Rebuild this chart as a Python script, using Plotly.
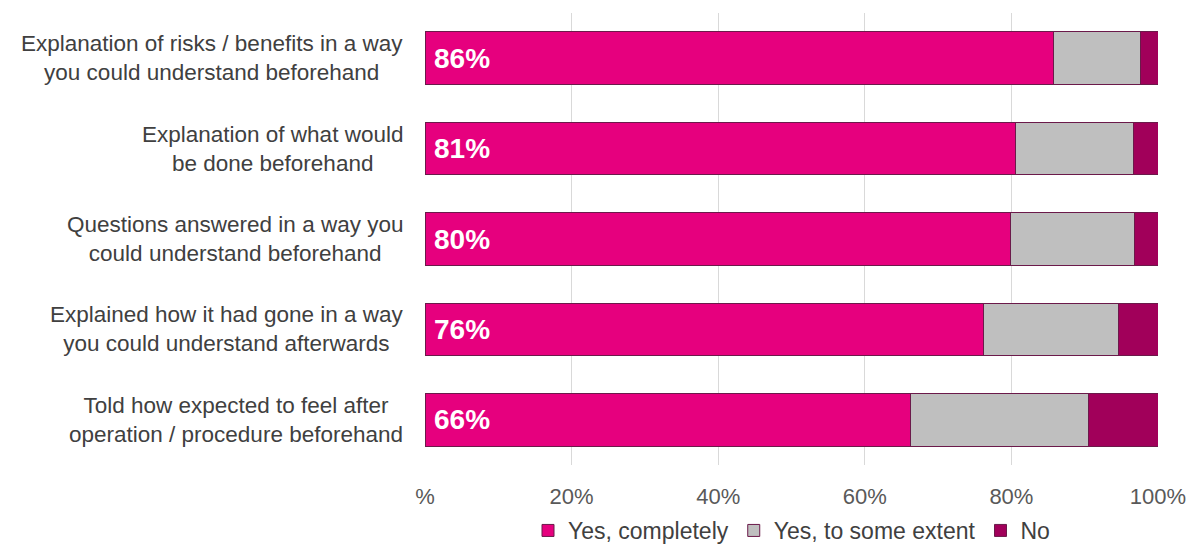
import plotly.graph_objects as go

categories = [
    "Explanation of risks / benefits in a way<br>you could understand beforehand",
    "Explanation of what would<br>be done beforehand",
    "Questions answered in a way you<br>could understand beforehand",
    "Explained how it had gone in a way<br>you could understand afterwards",
    "Told how expected to feel after<br>operation / procedure beforehand",
]
yes_completely = [85.7, 80.6, 79.9, 76.2, 66.2]
yes_some = [11.9, 16.0, 16.9, 18.4, 24.3]
no = [2.4, 3.4, 3.2, 5.4, 9.5]
series_names = ["Yes, completely", "Yes, to some extent", "No"]
tick_vals = [0, 20, 40, 60, 80, 100]
tick_text = ["%", "20%", "40%", "60%", "80%", "100%"]

colors = ["#E6007E", "#BFBFBF", "#A1005A"]
outline = "#6B1A4A"
FONT = "Liberation Sans, Arial, sans-serif"

fig = go.Figure()
for name, vals, col in zip(series_names, [yes_completely, yes_some, no], colors):
    fig.add_trace(go.Bar(
        y=categories, x=vals, name=name, orientation="h",
        marker=dict(color=col, line=dict(color=outline, width=1)),
        hoverinfo="skip",
    ))

annotations = []
for cat, v in zip(categories, yes_completely):
    annotations.append(dict(
        x=0, y=cat, xref="x", yref="y", text=f"<b>{int(v + 0.5)}%</b>",
        showarrow=False, xanchor="left", xshift=7,
        font=dict(family=FONT, size=28, color="white"),
    ))
for cat in categories:
    annotations.append(dict(
        x=-0.027, y=cat, xref="paper", yref="y", text=cat,
        showarrow=False, xanchor="right", align="center",
        font=dict(family=FONT, size=22.5, color="#404040"),
    ))

fig.update_layout(
    width=1195, height=552,
    barmode="stack", bargap=0.42,
    plot_bgcolor="white", paper_bgcolor="white",
    margin=dict(l=425, r=37, t=13, b=87, autoexpand=False),
    font=dict(family=FONT, size=22, color="#595959"),
    xaxis=dict(
        range=[0, 100], tickvals=tick_vals, ticktext=tick_text,
        showgrid=True, gridcolor="#D9D9D9", gridwidth=1,
        zeroline=False, showline=False, ticks="",
        ticklabelstandoff=16, automargin=False,
        tickfont=dict(family=FONT, size=22, color="#595959"),
        fixedrange=True,
    ),
    yaxis=dict(
        autorange="reversed", showticklabels=False, showgrid=False,
        zeroline=False, showline=False, ticks="", fixedrange=True,
        automargin=False,
    ),
    legend=dict(
        orientation="h", x=0.5, xanchor="center",
        yref="container", y=-0.014, yanchor="bottom",
        font=dict(family=FONT, size=23, color="#404040"),
        itemwidth=30, traceorder="normal",
    ),
    annotations=annotations,
)

fig.write_html("out.html")
